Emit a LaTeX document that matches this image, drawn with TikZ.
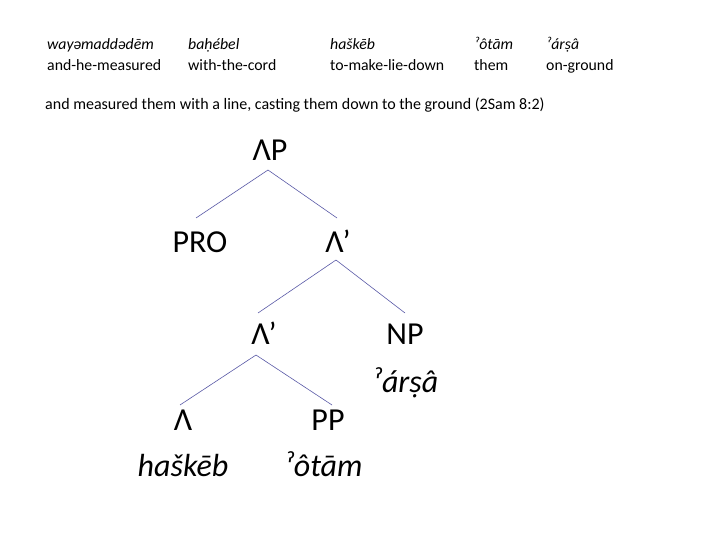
\documentclass[tikz,border=0pt]{standalone}
\usepackage{fontspec}
\setmainfont{Carlito}
\begin{document}
\begin{tikzpicture}[x=1pt,y=-1pt,
  sm/.style={anchor=base west,inner sep=0,font=\fontsize{15.8}{18}\selectfont},
  tr/.style={anchor=base,inner sep=0,font=\fontsize{32}{36}\selectfont},
  tri/.style={anchor=base,inner sep=0,font=\fontsize{32}{36}\selectfont\itshape},
  br/.style={draw=gray!70!blue,line width=0.6pt}]
\useasboundingbox (0,0) rectangle (720,540);
\node[sm] (w1) at (47,50) {\textit{wayəmaddədēm}};
\node[sm] (g1) at (47,71) {and-he-measured};
\node[sm] (w2) at (188,50) {\textit{baḥébel}};
\node[sm] (g2) at (188,71) {with-the-cord};
\node[sm] (w3) at (330,50) {\textit{haškēb}};
\node[sm] (g3) at (330,71) {to-make-lie-down};
\node[sm] (w4) at (474,50) {\textit{ˀôtām}};
\node[sm] (g4) at (474,71) {them};
\node[sm] (w5) at (546,50) {\textit{ˀárṣâ}};
\node[sm] (g5) at (546,71) {on-ground};
\node[sm,font=\fontsize{16}{18}\selectfont] (s) at (45,110) {and measured them with a line, casting them down to the ground (2Sam 8:2)};
\node[tr] (ap) at (270,161) {ΛP};
\node[tr] (pro) at (200,252) {PRO};
\node[tr] (l1) at (338,252) {Λ’};
\node[tr] (l2) at (264,344) {Λ’};
\node[tr] (np) at (405,344) {NP};
\node[tri] (np2) at (405,392) {ˀárṣâ};
\node[tr] (l) at (183,430) {Λ};
\node[tri] (l3) at (183,476) {haškēb};
\node[tr] (pp) at (328,430) {PP};
\node[tri] (pp2) at (323,476) {ˀôtām};
\coordinate (a0) at (268,170);
\draw[br] (a0) -- (196,218);
\draw[br] (a0) -- (337,218);
\coordinate (a1) at (336,260);
\draw[br] (a1) -- (258,313);
\draw[br] (a1) -- (405,313);
\coordinate (a2) at (256,355);
\draw[br] (a2) -- (180,405);
\draw[br] (a2) -- (332,405);
\end{tikzpicture}
\end{document}
